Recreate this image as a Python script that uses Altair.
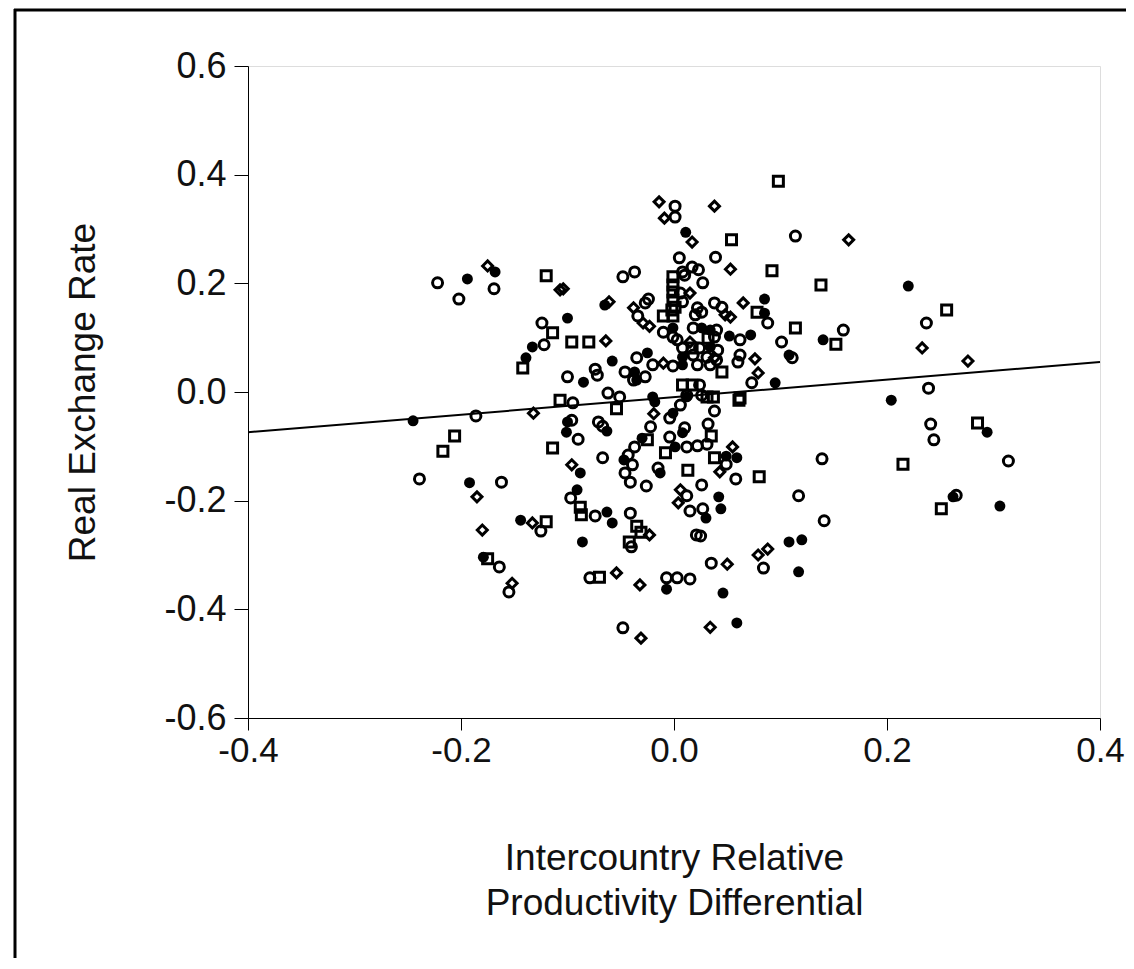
import altair as alt
import pandas as pd

# ---- data (x = productivity differential, y = real exchange rate)
circle_x = [-0.186,-0.239,-0.162,-0.125,-0.164,-0.155,-0.222,-0.202,-0.169,-0.124,-0.122,0.001,0.001,-0.048,-0.035,-0.100,-0.074,-0.072,-0.046,-0.038,
            0.005,0.039,-0.037,0.017,0.023,0.008,0.010,0.006,0.027,0.008,-0.024,-0.027,-0.034,0.038,0.045,0.022,0.026,0.020,-0.010,-0.001,
            0.003,0.018,0.040,0.038,0.008,0.024,0.041,0.018,0.031,-0.020,-0.001,0.022,0.034,-0.027,0.024,0.012,0.026,0.114,0.088,0.159,
            0.101,0.111,0.062,0.040,0.062,0.060,0.073,-0.062,-0.051,-0.095,0.006,-0.004,-0.096,-0.071,-0.067,-0.090,-0.022,0.010,-0.004,-0.037,
            0.012,0.022,-0.067,-0.043,-0.039,-0.046,-0.015,-0.041,-0.026,-0.097,0.012,0.015,-0.074,-0.041,0.021,-0.040,-0.079,-0.007,0.003,0.015,
            -0.048,0.038,0.032,0.031,0.049,0.058,0.139,0.026,0.027,0.025,0.117,0.141,0.084,0.035,0.237,0.239,0.241,0.244,0.314,0.265]
circle_y = [-0.044,-0.160,-0.166,-0.256,-0.322,-0.368,0.201,0.171,0.190,0.127,0.087,0.342,0.322,0.212,0.063,0.028,0.042,0.031,0.037,0.022,
            0.247,0.248,0.221,0.230,0.225,0.221,0.215,0.182,0.201,0.166,0.171,0.164,0.140,0.164,0.156,0.155,0.147,0.142,0.110,0.101,
            0.096,0.118,0.114,0.101,0.081,0.081,0.077,0.068,0.064,0.050,0.048,0.050,0.050,0.028,0.013,-0.006,-0.006,0.287,0.127,0.114,
            0.092,0.063,0.096,0.059,0.068,0.055,0.017,-0.002,-0.009,-0.020,-0.024,-0.048,-0.052,-0.055,-0.063,-0.087,-0.064,-0.066,-0.083,-0.101,
            -0.101,-0.099,-0.121,-0.116,-0.134,-0.149,-0.140,-0.166,-0.173,-0.195,-0.191,-0.219,-0.228,-0.223,-0.263,-0.285,-0.342,-0.342,-0.342,-0.344,
            -0.434,-0.035,-0.059,-0.096,-0.133,-0.160,-0.123,-0.171,-0.215,-0.265,-0.191,-0.237,-0.324,-0.315,0.127,0.007,-0.059,-0.088,-0.127,-0.190]

diamond_x = [-0.132,-0.185,-0.133,-0.180,-0.152,-0.175,-0.107,-0.014,-0.009,0.017,-0.104,-0.061,-0.064,0.015,-0.038,-0.029,-0.023,0.048,0.015,0.038,
             -0.010,0.038,0.164,0.053,0.065,0.053,0.076,0.079,-0.019,-0.096,0.006,0.004,-0.023,-0.054,-0.032,-0.031,0.055,0.043,0.088,0.079,
             0.050,0.034,0.233,0.276]
diamond_y = [-0.039,-0.193,-0.241,-0.254,-0.352,0.232,0.188,0.350,0.320,0.276,0.190,0.166,0.094,0.182,0.155,0.127,0.121,0.142,0.092,0.063,
             0.053,0.342,0.280,0.226,0.164,0.138,0.061,0.035,-0.040,-0.134,-0.180,-0.204,-0.263,-0.333,-0.355,-0.453,-0.101,-0.147,-0.289,-0.300,
             -0.317,-0.433,0.081,0.057]

square_x = [-0.206,-0.217,-0.120,-0.175,-0.114,-0.107,-0.120,-0.114,-0.142,-0.096,-0.080,-0.001,-0.001,-0.001,-0.001,0.001,-0.002,-0.010,-0.001,0.032,
            0.017,0.045,0.008,0.017,0.098,0.054,0.092,0.138,0.078,0.114,0.152,0.031,0.062,-0.054,-0.025,-0.008,0.013,-0.088,-0.087,-0.035,
            -0.031,-0.042,-0.070,0.061,0.037,0.035,0.038,0.080,0.256,0.285,0.215,0.251]
square_y = [-0.081,-0.109,-0.239,-0.307,-0.103,-0.015,0.214,0.109,0.044,0.092,0.092,0.212,0.197,0.184,0.169,0.156,0.151,0.140,0.140,0.099,
            0.081,0.037,0.013,0.013,0.388,0.280,0.223,0.197,0.147,0.118,0.088,-0.009,-0.011,-0.031,-0.088,-0.112,-0.144,-0.212,-0.226,-0.247,
            -0.258,-0.276,-0.341,-0.015,-0.009,-0.081,-0.121,-0.156,0.151,-0.057,-0.133,-0.215]

filled_x = [-0.245,-0.192,-0.144,-0.179,-0.194,-0.168,-0.133,-0.139,0.011,-0.065,-0.100,-0.058,-0.025,-0.085,-0.001,0.026,0.034,0.034,0.008,0.008,
            -0.037,-0.035,-0.020,0.085,0.085,0.140,0.108,0.052,0.072,0.095,-0.018,0.012,-0.001,-0.100,-0.063,-0.101,0.008,-0.030,0.001,-0.047,
            -0.088,-0.013,-0.091,-0.063,-0.058,-0.086,-0.007,0.049,0.059,0.042,0.044,0.030,0.108,0.120,0.117,0.046,0.059,0.220,0.204,0.294,
            0.262,0.306]
filled_y = [-0.053,-0.167,-0.236,-0.304,0.208,0.221,0.083,0.063,0.294,0.160,0.136,0.057,0.072,0.018,0.118,0.118,0.114,0.083,0.064,0.050,
            0.037,0.022,-0.009,0.171,0.145,0.096,0.068,0.103,0.105,0.017,-0.018,-0.009,-0.039,-0.055,-0.072,-0.074,-0.075,-0.085,-0.101,-0.125,
            -0.149,-0.149,-0.180,-0.221,-0.241,-0.276,-0.363,-0.118,-0.121,-0.193,-0.215,-0.232,-0.276,-0.272,-0.331,-0.370,-0.425,0.195,-0.015,-0.074,
            -0.193,-0.210]

# fitted line end points
line_x = [-0.4, 0.4]
line_y = [-0.074, 0.055]

y_ticks = [-0.6, -0.4, -0.2, 0.0, 0.2, 0.4, 0.6]
x_ticks = [-0.4, -0.2, 0.0, 0.2, 0.4]

open_df = pd.concat([
    pd.DataFrame({"x": circle_x, "y": circle_y, "kind": "circle"}),
    pd.DataFrame({"x": diamond_x, "y": diamond_y, "kind": "diamond"}),
    pd.DataFrame({"x": square_x, "y": square_y, "kind": "square"}),
], ignore_index=True)
filled_df = pd.DataFrame({"x": filled_x, "y": filled_y})
line_df = pd.DataFrame({"x": line_x, "y": line_y})
one = pd.DataFrame({"a": [0]})

FONT = "Liberation Sans"
label_expr = "replace(format(datum.value, '.1f'), '\u2212', '-')"

xscale = alt.Scale(domain=[-0.4, 0.4], nice=False, zero=False)
yscale = alt.Scale(domain=[-0.6, 0.6], nice=False, zero=False)

xaxis = alt.Axis(values=x_ticks, labelExpr=label_expr, title=["Intercountry Relative", "Productivity Differential"],
                 grid=False, tickSize=12, tickColor="black", domainColor="black", labelPadding=3,
                 labelFontSize=35, titleFontSize=37, labelFont=FONT, titleFont=FONT, labelColor="#111111",
                 titleColor="#111111", titleFontWeight="normal", titleX=426, titleY=122, titleLineHeight=45,
                 labelFlush=False, labelOverlap=False)
yaxis = alt.Axis(values=y_ticks, labelExpr=label_expr, title="Real Exchange Rate",
                 grid=False, tickSize=14, tickColor="black", domainColor="black", labelPadding=8,
                 labelFontSize=36, titleFontSize=37, labelFont=FONT, titleFont=FONT, labelColor="#111111",
                 titleColor="#111111", titleFontWeight="normal", titleX=-165, titleY=326, titleBaseline="middle",
                 labelFlush=False, labelOverlap=False)

open_pts = alt.Chart(open_df).mark_point(filled=False, color="black", strokeWidth=3, size=100, opacity=1).encode(
    x=alt.X("x:Q", scale=xscale, axis=xaxis),
    y=alt.Y("y:Q", scale=yscale, axis=yaxis),
    shape=alt.Shape("kind:N", scale=alt.Scale(domain=["circle", "diamond", "square"],
                                              range=["circle", "diamond", "square"]), legend=None),
)
filled_pts = alt.Chart(filled_df).mark_point(filled=True, color="black", size=120, shape="circle", opacity=1).encode(
    x=alt.X("x:Q", scale=xscale),
    y=alt.Y("y:Q", scale=yscale),
)
fit = alt.Chart(line_df).mark_line(color="black", strokeWidth=2).encode(
    x=alt.X("x:Q", scale=xscale),
    y=alt.Y("y:Q", scale=yscale),
)
top_frame = alt.Chart(one).mark_rule(color="black", strokeWidth=3).encode(
    x=alt.value(-234), x2=alt.value(878), y=alt.value(-56))
left_frame = alt.Chart(one).mark_rule(color="black", strokeWidth=3).encode(
    x=alt.value(-233), y=alt.value(-57), y2=alt.value(892))

chart = alt.layer(open_pts, filled_pts, fit, top_frame, left_frame).properties(
    width=852, height=652,
    padding={"left": 240, "top": 58, "right": 26, "bottom": 240},
    autosize=alt.AutoSizeParams(type="none"),
).configure_view(stroke="black", strokeWidth=2).configure(background="white")

chart.save("out.html", embed_options={"renderer": "svg", "actions": False})
